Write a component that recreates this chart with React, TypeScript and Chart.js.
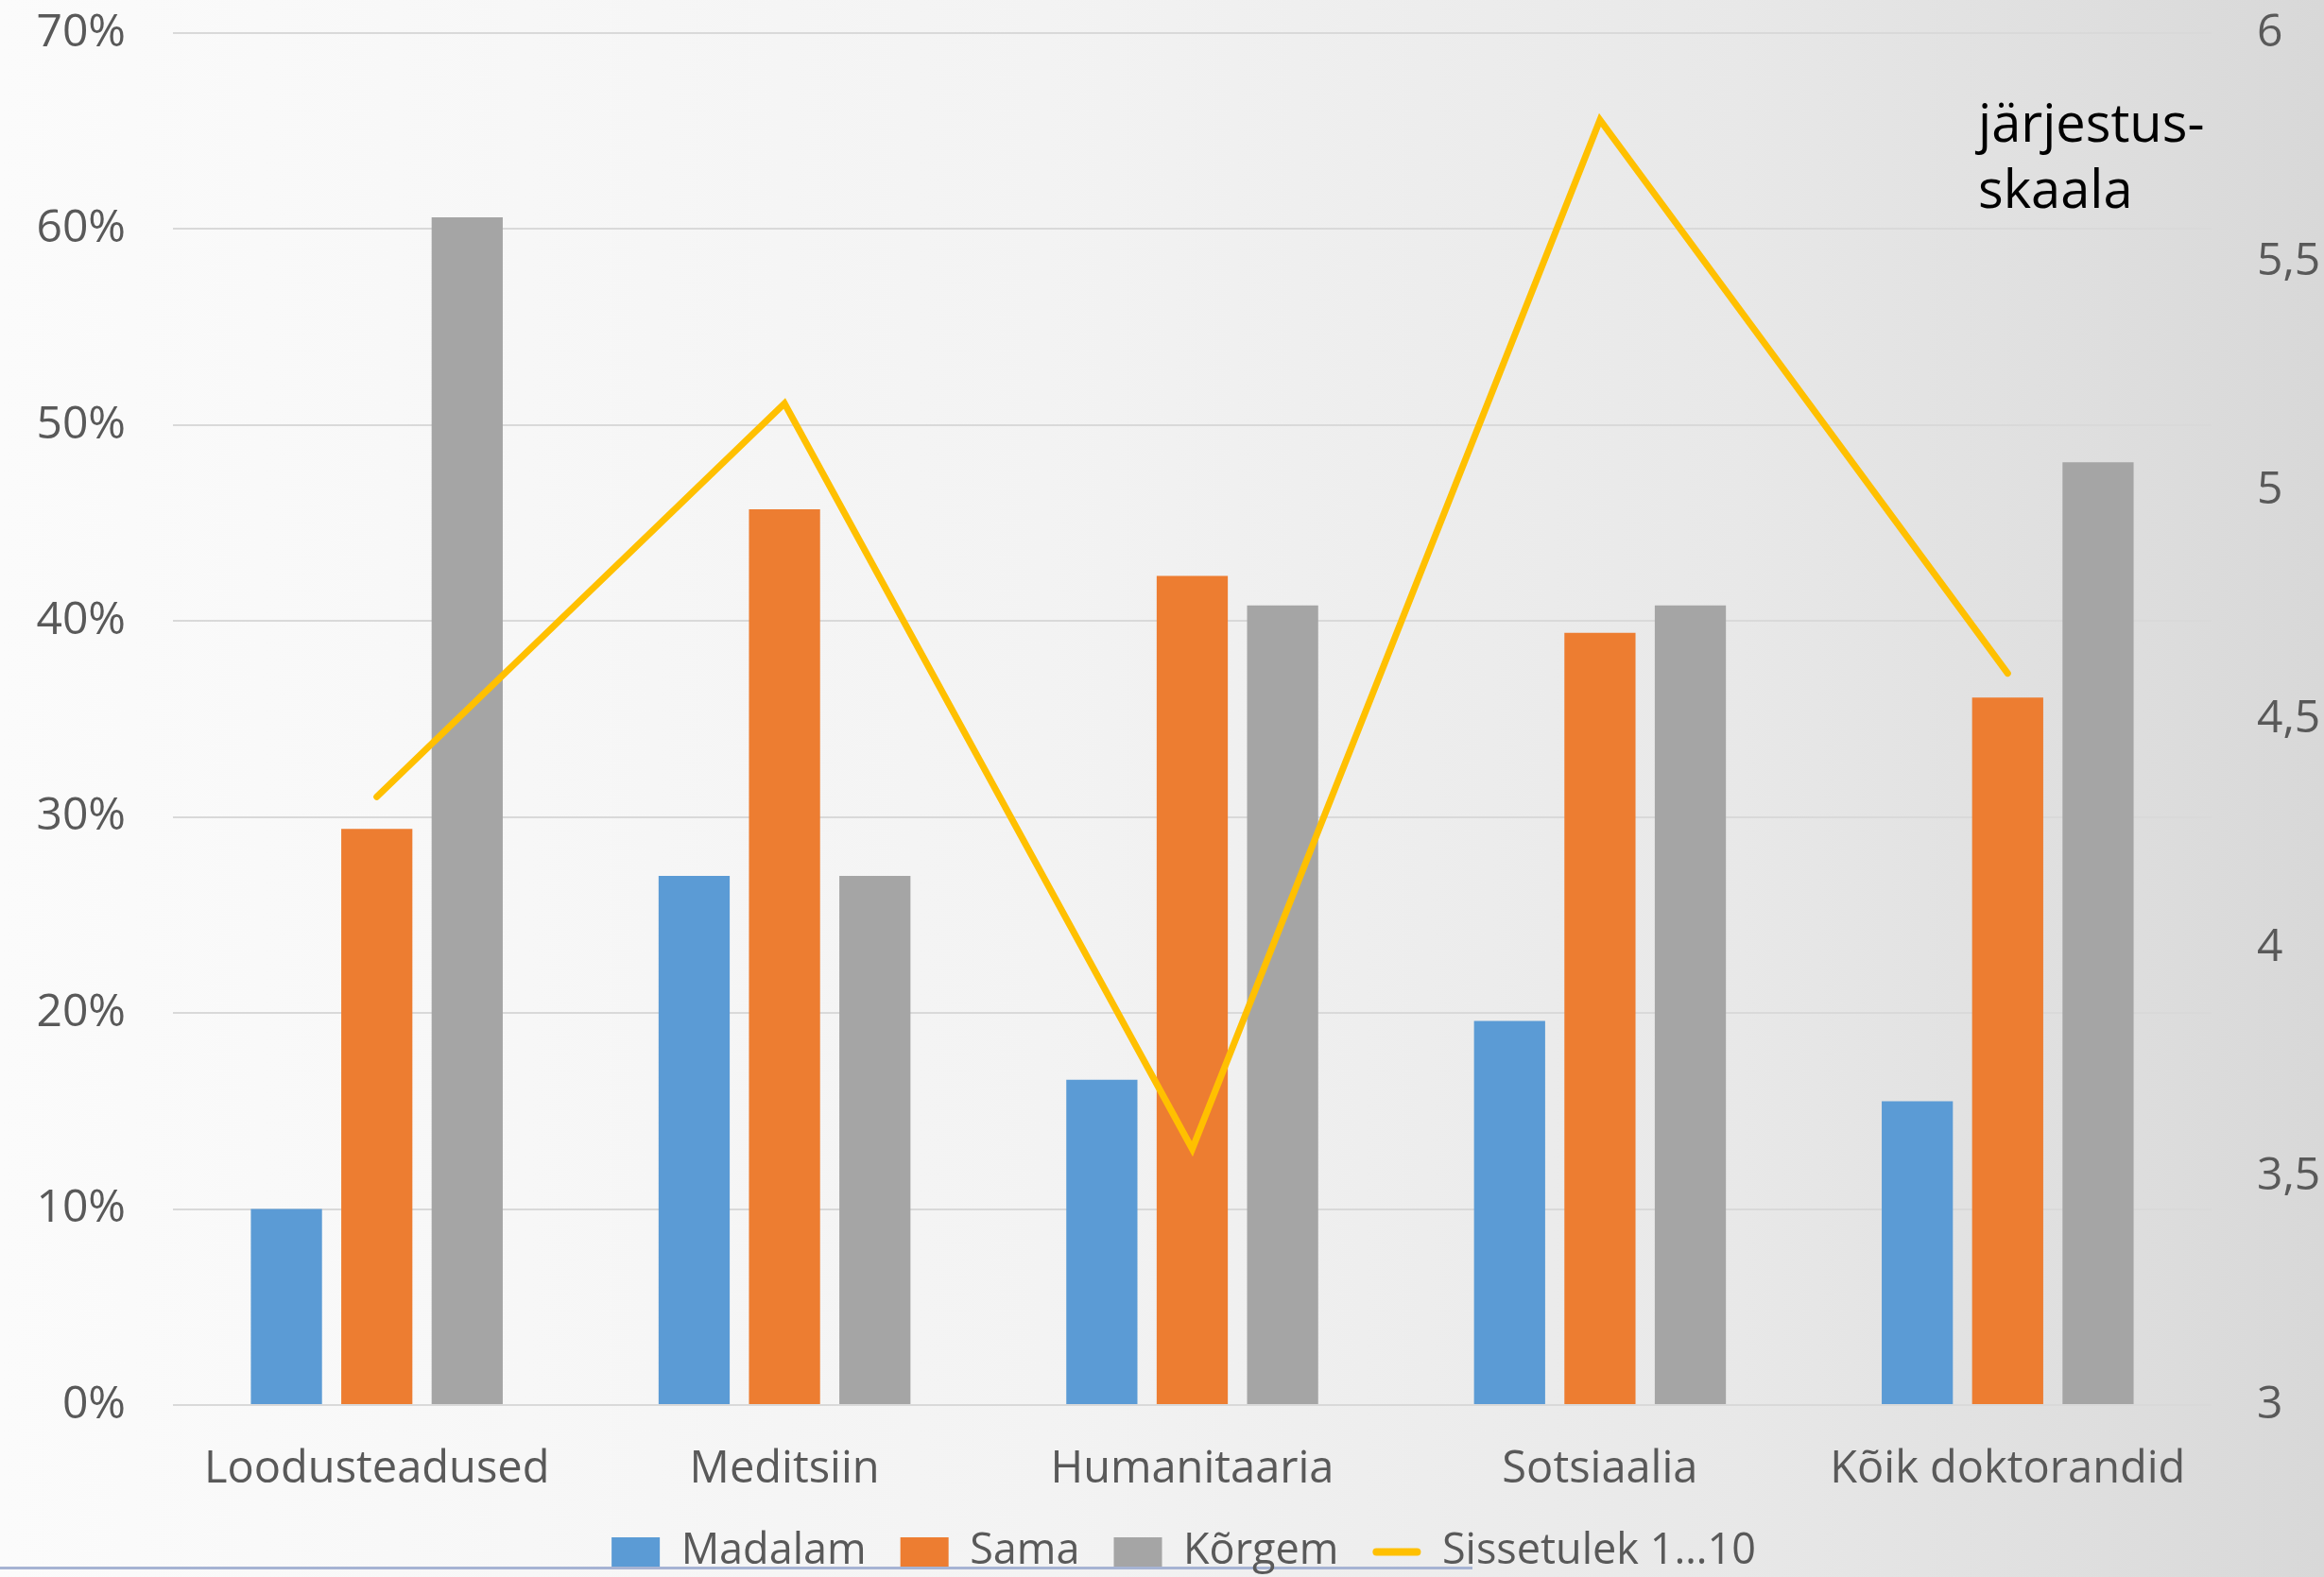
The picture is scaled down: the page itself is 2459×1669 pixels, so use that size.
import React, { useEffect, useRef } from "react";
import { Chart, registerables } from "chart.js";

Chart.register(...registerables);

const categories = ["Loodusteadused", "Meditsiin", "Humanitaaria", "Sotsiaalia", "Kõik doktorandid"];
const seriesNames = ["Madalam", "Sama", "Kõrgem", "Sissetulek 1…10"];
const madalam = [10.0, 27.0, 16.6, 19.6, 15.5];
const sama = [29.4, 45.7, 42.3, 39.4, 36.1];
const korgem = [60.6, 27.0, 40.8, 40.8, 48.1];
const sissetulek = [4.33, 5.19, 3.56, 5.81, 4.6];
const leftTicks = { min: 0, max: 70, step: 10 };
const rightTicks = { min: 3, max: 6, step: 0.5 };
const annotationLines = ["järjestus-", "skaala"];

const FONT = "'Open Sans', sans-serif";
const TICK_COLOR = "#595959";

const extrasPlugin = {
  id: "extras",
  afterLayout(chart: any) {
    if (chart.legend) chart.legend.left += 46;
  },
  afterDraw(chart: any) {
    const ctx = chart.ctx;
    const legend = chart.legend;
    if (legend && legend.legendItems) {
      const idx = legend.legendItems.findIndex((it: any) => it.datasetIndex === 3);
      const hb = legend.legendHitBoxes[idx];
      if (hb) {
        const fontSize = legend.options.labels.font.size;
        const bw = legend.options.labels.boxWidth;
        const y = hb.top + fontSize / 2;
        ctx.save();
        ctx.strokeStyle = "#FFC000";
        ctx.lineWidth = 8;
        ctx.lineCap = "round";
        ctx.beginPath();
        ctx.moveTo(hb.left + 4, y);
        ctx.lineTo(hb.left + bw - 4, y);
        ctx.stroke();
        ctx.restore();
      }
    }
    const area = chart.chartArea;
    ctx.save();
    ctx.fillStyle = "#000000";
    ctx.font = `56px ${FONT}`;
    ctx.textAlign = "left";
    ctx.textBaseline = "alphabetic";
    annotationLines.forEach((t, i) => {
      ctx.fillText(t, area.right - 247, area.top + 115 + i * 70);
    });
    ctx.restore();
  },
};

export default function App() {
  const ref = useRef<HTMLCanvasElement | null>(null);

  useEffect(() => {
    if (!ref.current) return;
    Chart.defaults.font.family = FONT;
    const chart = new Chart(ref.current, {
      type: "bar",
      data: {
        labels: categories,
        datasets: [
          {
            type: "bar",
            label: seriesNames[0],
            data: madalam,
            backgroundColor: "#5B9BD5",
            borderWidth: 0,
            yAxisID: "y",
            order: 1,
          },
          {
            type: "bar",
            label: seriesNames[1],
            data: sama,
            backgroundColor: "#ED7D31",
            borderWidth: 0,
            yAxisID: "y",
            order: 1,
          },
          {
            type: "bar",
            label: seriesNames[2],
            data: korgem,
            backgroundColor: "#A5A5A5",
            borderWidth: 0,
            yAxisID: "y",
            order: 1,
          },
          {
            type: "line",
            label: seriesNames[3],
            data: sissetulek,
            borderColor: "#FFC000",
            backgroundColor: "#FFC000",
            borderWidth: 7,
            borderCapStyle: "round",
            borderJoinStyle: "miter",
            pointRadius: 0,
            tension: 0,
            yAxisID: "y1",
            order: 0,
          } as any,
        ],
      },
      options: {
        animation: false,
        responsive: false,
        maintainAspectRatio: false,
        layout: { padding: { left: 0, top: 35, right: 0, bottom: 0 } },
        datasets: {
          bar: { categoryPercentage: 0.665, barPercentage: 0.787 },
        },
        scales: {
          x: {
            grid: { display: false, drawTicks: false },
            border: { display: false },
            ticks: {
              color: TICK_COLOR,
              font: { size: 47, family: FONT },
              padding: 40,
              maxRotation: 0,
              autoSkip: false,
            },
            afterFit: (s: any) => {
              s.height = 97;
              s.paddingLeft = 0;
              s.paddingRight = 0;
            },
          },
          y: {
            position: "left",
            min: leftTicks.min,
            max: leftTicks.max,
            grid: { color: "#d9d9d9", lineWidth: 2, drawTicks: false },
            border: { display: false },
            ticks: {
              stepSize: leftTicks.step,
              color: TICK_COLOR,
              font: { size: 48, family: FONT },
              padding: 50,
              callback: (v: any) => `${Math.round(Number(v))}%`,
            },
            afterFit: (s: any) => {
              s.width = 183;
              s.paddingTop = 0;
              s.paddingBottom = 0;
            },
          },
          y1: {
            position: "right",
            min: rightTicks.min,
            max: rightTicks.max,
            grid: { display: false, drawTicks: false },
            border: { display: false },
            ticks: {
              stepSize: rightTicks.step,
              color: TICK_COLOR,
              font: { size: 48, family: FONT },
              padding: 48,
              callback: (v: any) => String(v).replace(".", ","),
            },
            afterFit: (s: any) => {
              s.width = 119;
              s.paddingTop = 0;
              s.paddingBottom = 0;
            },
          },
        },
        plugins: {
          tooltip: { enabled: false },
          legend: {
            position: "bottom",
            maxHeight: 85,
            labels: {
              color: TICK_COLOR,
              font: { size: 45, family: FONT },
              boxWidth: 51,
              boxHeight: 31,
              padding: 36,
              sort: (a: any, b: any) => a.datasetIndex - b.datasetIndex,
              generateLabels: (c: any) => {
                const items = (Chart.defaults.plugins.legend.labels as any).generateLabels(c);
                items.forEach((it: any) => {
                  it.lineWidth = 0;
                  if (it.datasetIndex === 3) {
                    it.fillStyle = "rgba(0,0,0,0)";
                    it.strokeStyle = "rgba(0,0,0,0)";
                  }
                });
                return items;
              },
            },
          } as any,
        },
      },
      plugins: [extrasPlugin],
    });
    return () => chart.destroy();
  }, []);

  return (
    <div
      style={{
        position: "fixed",
        left: 0,
        top: 0,
        width: 2459,
        height: 1669,
        overflow: "hidden",
        background: "linear-gradient(to right, #fbfbfb 0%, #f3f3f3 45%, #e8e8e8 75%, #d8d8d8 100%)",
      }}
    >
      <div
        style={{
          position: "absolute",
          left: 0,
          top: 1658,
          width: 1558,
          height: 3,
          background: "#a6b3d3",
        }}
      />
      <canvas
        ref={ref}
        width={2459}
        height={1669}
        style={{ position: "absolute", left: 0, top: 0, width: 2459, height: 1669 }}
      />
    </div>
  );
}
